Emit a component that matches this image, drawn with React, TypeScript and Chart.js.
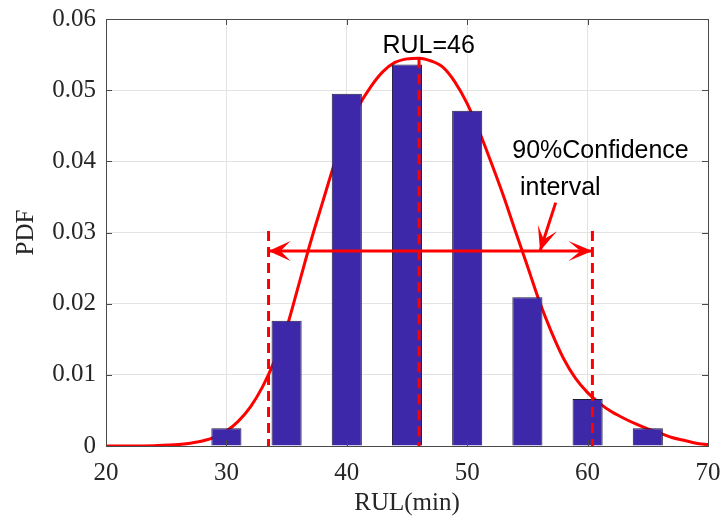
import React, { useEffect, useRef } from "react";
import { Chart, registerables } from "chart.js";

Chart.register(...registerables);

// ---- data ----
const binCenters = [30, 35, 40, 45, 50, 55, 60, 65];
const binDensity = [0.0025, 0.0176, 0.0495, 0.0536, 0.0471, 0.0209, 0.0066, 0.0025];

const curveX = [20, 22, 24, 26, 27, 28, 29, 30, 31, 32, 33, 34, 35, 36, 37, 38, 39, 40, 41, 42, 43, 44, 45, 46, 47, 48, 49, 50, 51, 52, 53, 54, 55, 56, 57, 58, 59, 60, 61, 62, 63, 64, 65, 66, 67, 68, 69, 70];
const curveY = [0, 0, 0.00005, 0.0002, 0.0004, 0.0007, 0.0012, 0.0021, 0.0035, 0.0055, 0.0083, 0.012, 0.0166, 0.0226, 0.0287, 0.0343, 0.0398, 0.0443, 0.0478, 0.0505, 0.0526, 0.0539, 0.0544, 0.0545, 0.0541, 0.0532, 0.0511, 0.0481, 0.0442, 0.0398, 0.0352, 0.0302, 0.0253, 0.0203, 0.016, 0.0123, 0.0095, 0.0075, 0.006, 0.0048, 0.0039, 0.0031, 0.0024, 0.0018, 0.0012, 0.0008, 0.0004, 0.0002];

const rulEstimate = 46;
const rulPeakDensity = 0.0545;
const ciLower = 33.5;
const ciUpper = 60.4;
const ciMarkerTop = 0.0302;
const ciArrowLevel = 0.0274;
const pointerStartX = 57.35;
const pointerStartY = 0.0342;
const pointerEndX = 56.05;

const xTicks = [20, 30, 40, 50, 60, 70];
const yTicks = [0, 0.01, 0.02, 0.03, 0.04, 0.05, 0.06];

const rulLabel = "RUL=46";
const ciLabelLine1 = "90%Confidence";
const ciLabelLine2 = "interval";
const xTitle = "RUL(min)";
const yTitle = "PDF";

const RED = "#ff0000";
const AXIS = "#4a4a4a";

function drawHead(ctx: CanvasRenderingContext2D, fx: number, fy: number, tx: number, ty: number, L: number, W: number, N: number) {
  const dx = tx - fx, dy = ty - fy;
  const len = Math.hypot(dx, dy) || 1;
  const ux = dx / len, uy = dy / len;
  const nx = -uy, ny = ux;
  ctx.beginPath();
  ctx.moveTo(tx, ty);
  ctx.lineTo(tx - ux * L + nx * W, ty - uy * L + ny * W);
  ctx.lineTo(tx - ux * N, ty - uy * N);
  ctx.lineTo(tx - ux * L - nx * W, ty - uy * L - ny * W);
  ctx.closePath();
  ctx.fill();
}

const annotationPlugin = {
  id: "rulAnnotations",
  afterDatasetsDraw(chart: any) {
    const ctx = chart.ctx as CanvasRenderingContext2D;
    const xs = chart.scales.x, ys = chart.scales.y;
    ctx.save();
    ctx.fillStyle = RED;
    chart.data.datasets.forEach((ds: any, i: number) => {
      if (!ds.arrowHeads) return;
      const pts = chart.getDatasetMeta(i).data;
      if (pts.length < 2) return;
      const a = pts[0], b = pts[pts.length - 1];
      if (ds.arrowHeads === "both" || ds.arrowHeads === "end") drawHead(ctx, a.x, a.y, b.x, b.y, 24, 10, 12);
      if (ds.arrowHeads === "both" || ds.arrowHeads === "start") drawHead(ctx, b.x, b.y, a.x, a.y, 22, 10, 12);
    });
    ctx.fillStyle = "#000";
    ctx.font = "25px 'Liberation Sans', Arial, sans-serif";
    ctx.textBaseline = "alphabetic";
    ctx.textAlign = "center";
    ctx.fillText(rulLabel, xs.getPixelForValue(46.8), ys.getPixelForValue(0.0552));
    ctx.textAlign = "left";
    ctx.fillText(ciLabelLine1, xs.getPixelForValue(53.74), ys.getPixelForValue(0.0405));
    ctx.fillText(ciLabelLine2, xs.getPixelForValue(54.39), ys.getPixelForValue(0.0352));
    ctx.restore();
  },
  afterDraw(chart: any) {
    const ctx = chart.ctx as CanvasRenderingContext2D;
    const { left, right, top, bottom } = chart.chartArea;
    const xs = chart.scales.x, ys = chart.scales.y;
    ctx.save();
    ctx.strokeStyle = AXIS;
    ctx.lineWidth = 1;
    ctx.strokeRect(Math.round(left) + 0.5, Math.round(top) + 0.5, Math.round(right - left), Math.round(bottom - top));
    const tl = 6;
    ctx.beginPath();
    xTicks.forEach((v) => {
      const px = Math.round(xs.getPixelForValue(v)) + 0.5;
      ctx.moveTo(px, bottom); ctx.lineTo(px, bottom - tl);
      ctx.moveTo(px, top); ctx.lineTo(px, top + tl);
    });
    yTicks.forEach((v) => {
      const py = Math.round(ys.getPixelForValue(v)) + 0.5;
      ctx.moveTo(left, py); ctx.lineTo(left + tl, py);
      ctx.moveTo(right, py); ctx.lineTo(right - tl, py);
    });
    ctx.stroke();
    ctx.restore();
  },
};

export default function App() {
  const ref = useRef<HTMLCanvasElement | null>(null);
  useEffect(() => {
    document.body.style.margin = "0";
    const canvas = ref.current;
    if (!canvas) return;
    const serif = "'Liberation Serif', 'Times New Roman', serif";
    const chart = new Chart(canvas, {
      type: "bar",
      data: {
        datasets: [
          {
            type: "bar",
            data: binCenters.map((x, i) => ({ x, y: binDensity[i] })),
            backgroundColor: "#3c28a8",
            borderColor: "#1c1c3a",
            borderWidth: 1,
            barPercentage: 0.5,
            categoryPercentage: 1.0,
            order: 2,
          } as any,
          {
            type: "line",
            data: curveX.map((x, i) => ({ x, y: curveY[i] })),
            borderColor: RED,
            borderWidth: 3,
            pointRadius: 0,
            cubicInterpolationMode: "monotone",
            fill: false,
            order: 3,
          } as any,
          {
            type: "line",
            data: [{ x: ciLower, y: ciMarkerTop }, { x: ciLower, y: 0 }],
            borderColor: RED,
            borderWidth: 3,
            borderDash: [10, 6],
            pointRadius: 0,
            order: 1,
          } as any,
          {
            type: "line",
            data: [{ x: rulEstimate, y: rulPeakDensity }, { x: rulEstimate, y: 0 }],
            borderColor: RED,
            borderWidth: 3,
            borderDash: [10, 6],
            pointRadius: 0,
            order: 1,
          } as any,
          {
            type: "line",
            data: [{ x: ciUpper, y: ciMarkerTop }, { x: ciUpper, y: 0 }],
            borderColor: RED,
            borderWidth: 3,
            borderDash: [10, 6],
            pointRadius: 0,
            order: 1,
          } as any,
          {
            type: "line",
            data: [{ x: ciLower, y: ciArrowLevel }, { x: ciUpper, y: ciArrowLevel }],
            borderColor: RED,
            borderWidth: 3,
            pointRadius: 0,
            arrowHeads: "both",
            order: 0,
          } as any,
          {
            type: "line",
            data: [{ x: pointerStartX, y: pointerStartY }, { x: pointerEndX, y: ciArrowLevel }],
            borderColor: RED,
            borderWidth: 3,
            pointRadius: 0,
            arrowHeads: "end",
            order: 0,
          } as any,
        ],
      },
      options: {
        responsive: false,
        animation: false,
        layout: { padding: { left: 0, top: 19, right: 15, bottom: 0 } },
        plugins: { legend: { display: false }, tooltip: { enabled: false } },
        scales: {
          x: {
            type: "linear",
            min: 20,
            max: 70,
            offset: false,
            afterBuildTicks: (s: any) => { s.ticks = xTicks.map((v) => ({ value: v })); },
            afterFit: (s: any) => { s.height = 72; s.paddingLeft = 0; s.paddingRight = 0; },
            ticks: { font: { family: serif, size: 25 }, color: "#262626", padding: 12, maxRotation: 0 },
            grid: { color: "#e3e3e3", drawTicks: false, offset: false },
            border: { display: false },
            title: { display: true, text: xTitle, font: { family: serif, size: 25 }, color: "#262626", padding: { top: 0, bottom: 0 } },
          },
          y: {
            type: "linear",
            min: 0,
            max: 0.06,
            afterBuildTicks: (s: any) => { s.ticks = yTicks.map((v) => ({ value: v })); },
            afterFit: (s: any) => { s.width = 106; s.paddingTop = 0; s.paddingBottom = 0; },
            ticks: {
              font: { family: serif, size: 25 },
              color: "#262626",
              padding: 10,
              callback: (v: any) => (Number(v) === 0 ? "0" : Number(v).toFixed(2)),
            },
            grid: { color: "#e3e3e3", drawTicks: false },
            border: { display: false },
            title: { display: true, text: yTitle, font: { family: serif, size: 25 }, color: "#262626", padding: { top: 11, bottom: 0 } },
          },
        },
      } as any,
      plugins: [annotationPlugin],
    });
    return () => chart.destroy();
  }, []);
  return (
    <div style={{ width: 723, height: 518, background: "#fff" }}>
      <canvas ref={ref} width={723} height={518} style={{ display: "block" }} />
    </div>
  );
}
